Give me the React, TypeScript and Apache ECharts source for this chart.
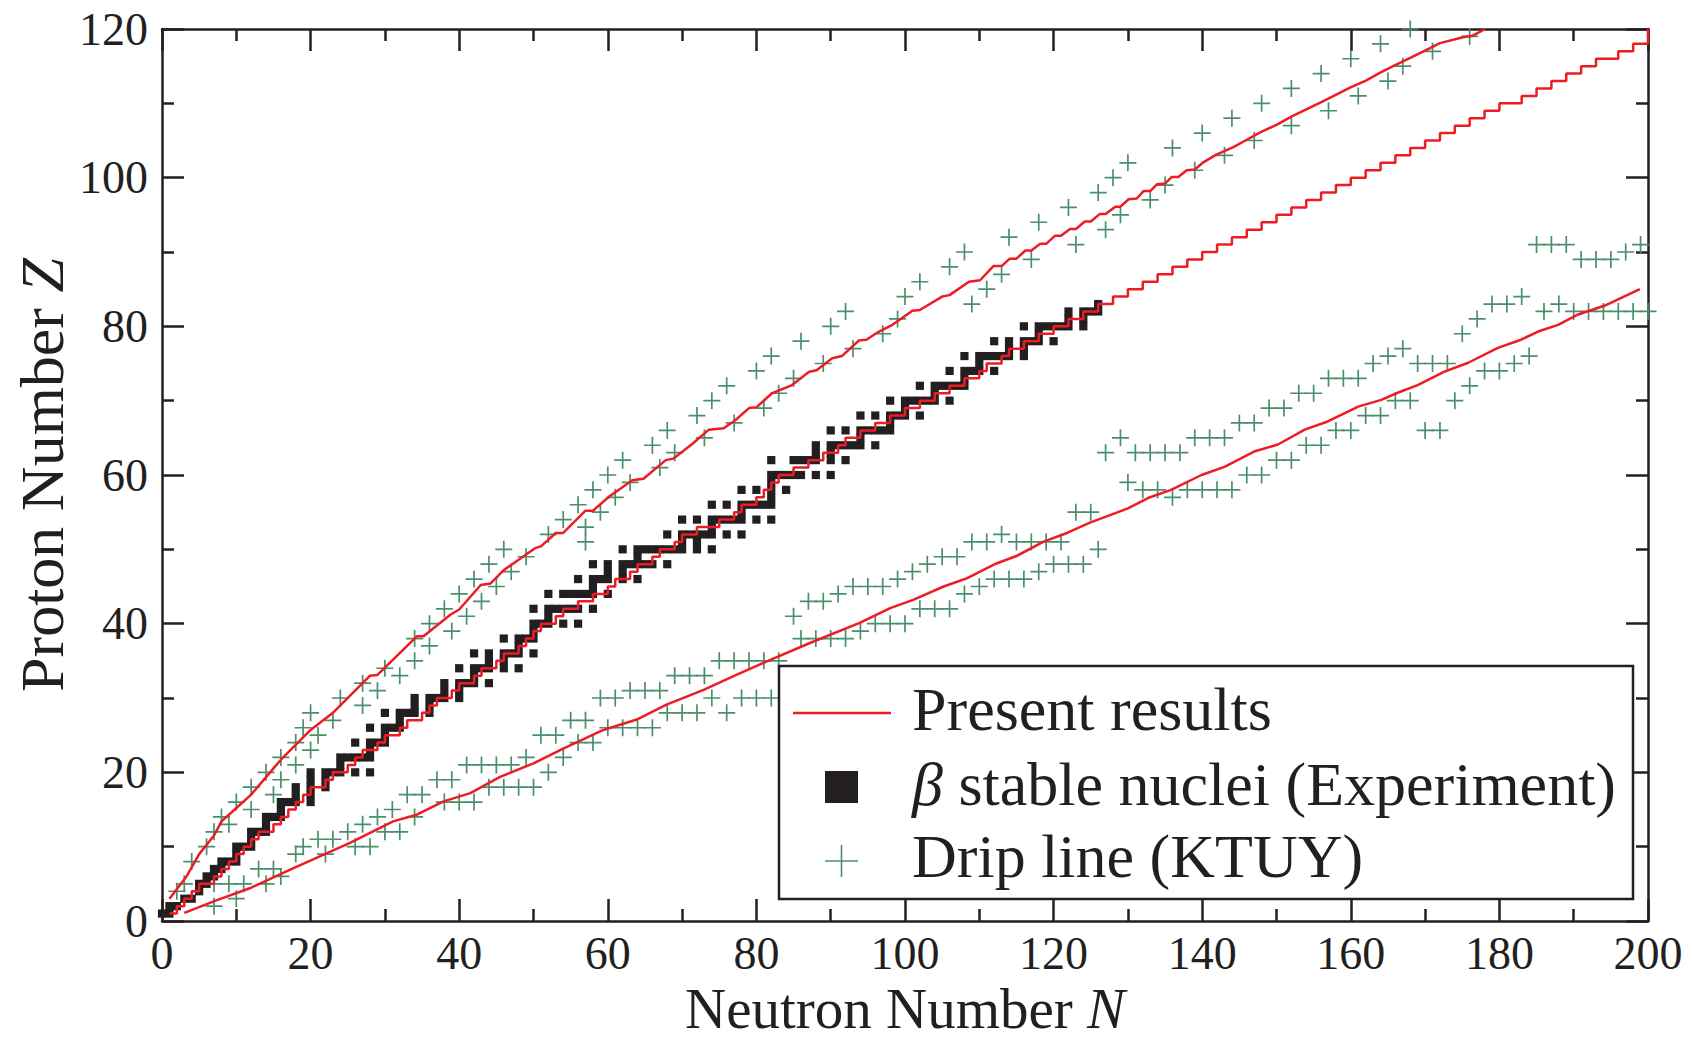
import React, { useEffect, useRef } from 'react';
import * as echarts from 'echarts';

const FONT = '"Liberation Serif", "Times New Roman", Times, serif';
const INK = '#231f20';
const RED = '#ed1c24';
const GREEN = '#4a8f6b';

// Axis ranges / ticks
const xRange = [0, 200];
const yRange = [0, 120];
const majorStep = 20;

// Legend / axis texts
const xTitle = 'Neutron Number ';
const xTitleItalic = 'N';
const yTitle = 'Proton Number ';
const yTitleItalic = 'Z';
const legendLabels = ['Present results', 'β', ' stable nuclei (Experiment)', 'Drip line (KTUY)'];

// β-stable nuclei (experiment): [Z, list of N]
const stableByZ: [number, number[]][] = [
  [1, [0, 1]], [2, [1, 2]], [3, [3, 4]], [4, [5]], [5, [5, 6]], [6, [6, 7]], [7, [7, 8]],
  [8, [8, 9, 10]], [9, [10]], [10, [10, 11, 12]], [11, [12]], [12, [12, 13, 14]], [13, [14]],
  [14, [14, 15, 16]], [15, [16]], [16, [16, 17, 18, 20]], [17, [18, 20]], [18, [18, 20, 22]],
  [19, [20, 22]], [20, [20, 22, 23, 24, 26, 28]], [21, [24]], [22, [24, 25, 26, 27, 28]],
  [23, [28]], [24, [26, 28, 29, 30]], [25, [30]], [26, [28, 30, 31, 32]], [27, [32]],
  [28, [30, 32, 33, 34, 36]], [29, [34, 36]], [30, [34, 36, 37, 38, 40]], [31, [38, 40]],
  [32, [38, 40, 41, 42, 44]], [33, [42]], [34, [40, 42, 43, 44, 46, 48]], [35, [44, 46]],
  [36, [42, 44, 46, 47, 48, 50]], [37, [48]], [38, [46, 48, 49, 50]], [39, [50]],
  [40, [50, 51, 52, 54, 56]], [41, [52]], [42, [50, 52, 53, 54, 55, 56, 58]],
  [44, [52, 54, 55, 56, 57, 58, 60]], [45, [58]], [46, [56, 58, 59, 60, 62, 64]], [47, [60, 62]],
  [48, [58, 60, 62, 63, 64, 65, 66, 68]], [49, [64]], [50, [62, 64, 65, 66, 67, 68, 69, 70, 72, 74]],
  [51, [70, 72]], [52, [68, 70, 71, 72, 73, 74, 76, 78]], [53, [74]],
  [54, [70, 72, 74, 75, 76, 77, 78, 80, 82]], [55, [78]], [56, [74, 76, 78, 79, 80, 81, 82]],
  [57, [82]], [58, [78, 80, 82, 84]], [59, [82]], [60, [82, 83, 84, 85, 86, 88, 90]],
  [62, [82, 85, 86, 87, 88, 90, 92]], [63, [88, 90]], [64, [88, 90, 91, 92, 93, 94, 96]],
  [65, [94]], [66, [90, 92, 94, 95, 96, 97, 98]], [67, [98]], [68, [94, 96, 98, 99, 100, 102]],
  [69, [100]], [70, [98, 100, 101, 102, 103, 104, 106]], [71, [104]],
  [72, [102, 104, 105, 106, 107, 108]], [73, [108]], [74, [106, 108, 109, 110, 112]], [75, [110]],
  [76, [108, 110, 111, 112, 113, 114, 116]], [77, [114, 116]], [78, [112, 114, 116, 117, 118, 120]],
  [79, [118]], [80, [116, 118, 119, 120, 121, 122, 124]], [81, [122, 124]], [82, [122, 124, 125, 126]],
  [83, [126]],
];

// Present results: proton drip line [N, Z]
const protonDripPresent: number[][] = [
  [1, 3], [3.3, 6], [5, 9], [7, 11.5], [8, 13.4], [9, 14.3], [12, 17], [16, 21.7], [20, 25.7],
  [23, 28], [28, 33], [29, 33.1], [34.3, 38.3], [35.2, 38.3], [38.8, 41.2], [40, 41.9],
  [42.9, 45.2], [44.2, 45.4], [46, 47.2], [50.3, 50.2], [51, 50.4], [53, 52.2], [54, 52.2],
  [57, 55.2], [58, 55.2], [60.2, 57.1], [63.3, 59.3], [64.8, 59.5], [67.8, 62], [68.8, 62.2],
  [71.4, 64.2], [73.6, 66.1], [75.6, 66.3], [77.2, 67.4], [79, 69], [80, 69.1], [82.1, 71],
  [84.8, 72.1], [87.1, 73.9], [88.1, 74.1], [90.2, 75.7], [91.5, 76], [93.8, 78.1], [94.8, 78.2],
  [96.5, 79.3], [98.3, 80.2], [101, 82.1], [102, 82.2], [105, 84], [106, 84.2], [108.6, 86],
  [110.1, 86.2], [111.9, 88.1], [113, 88.1], [114.1, 89.1], [115, 89.1], [116.2, 90.2], [117, 90.2],
  [118.2, 91.1], [119, 91.1], [120.2, 92.2], [121, 92.2], [122.2, 93.1], [123, 93.1], [124.2, 94.1],
  [125, 94.1], [126.2, 95.1], [127, 95.1], [128.3, 96.1], [129, 96.1], [130.1, 97.1], [131.2, 97.2],
  [132.1, 98.2], [133, 98.2], [133.9, 99.1], [135, 99.2], [135.9, 100.1], [136.8, 100.1],
  [137.9, 101], [139, 101.1], [140.2, 102.1], [141.9, 103.1], [144.2, 104.1], [146, 105.1],
  [147.8, 106.1], [150, 107.1], [152, 108.2], [153.8, 109.1], [156.1, 110.2], [158.1, 111.2],
  [159.9, 112.1], [162.1, 113.1], [163.9, 114.1], [165.9, 115.1], [168, 116.1], [170, 117.1],
  [172, 118.1], [175.1, 118.9], [176.4, 119.1], [178.1, 120],
];

// Present results: beta-stability line (staircase, [N where Z rises, new Z])
const betaLinePresent: number[][] = [
  [1, 1], [2, 2], [3, 3], [4, 4], [5, 5], [7, 6], [8, 7], [9, 8], [10, 9], [11, 10], [12, 11],
  [13, 12], [15, 13], [16, 14], [17, 15], [18, 16], [19, 17], [20, 18], [22, 19], [23, 20],
  [25, 21], [26, 22], [27, 23], [29, 24], [30, 25], [32, 26], [33, 27], [35, 28], [36, 29],
  [37, 30], [39, 31], [40, 32], [42, 33], [43, 34], [45, 35], [46, 36], [48, 37], [49, 38],
  [50, 39], [51, 40], [53, 41], [54, 42], [56, 43], [58, 44], [60, 45], [61, 46], [63, 47],
  [64, 48], [66, 49], [67, 50], [69, 51], [70, 52], [72, 53], [75, 54], [77, 55], [78, 56],
  [80, 57], [81, 58], [82, 59], [83, 60], [85, 61], [87, 62], [89, 63], [91, 64], [92, 65],
  [94, 66], [96, 67], [98, 68], [100, 69], [102, 70], [104, 71], [106, 72], [108, 73], [110, 74],
  [111, 75], [113, 76], [114, 77], [116, 78], [118, 79], [120, 80], [122, 81], [124, 82],
  [126, 83], [128, 84], [130, 85], [132, 86], [134, 87], [136, 88], [138, 89], [140, 90],
  [142, 91], [144, 92], [146, 93], [148, 94], [150, 95], [152, 96], [154, 97], [156, 98],
  [158, 99], [160, 100], [162, 101], [164, 102], [166, 103], [168, 104], [170, 105], [172, 106],
  [174, 107], [176, 108], [178, 109], [180, 110], [183, 111], [185, 112], [187, 113], [189, 114],
  [191, 115], [193, 116], [196, 117], [198, 118], [200, 118], [200, 120],
];

// Present results: neutron drip line [N, Z]
const neutronDripPresent: number[][] = [
  [3, 1.1], [7.4, 2.8], [11.8, 4.4], [17.7, 7.1], [25.3, 10.5], [31.1, 13.4], [34.3, 14.3],
  [37.9, 16.1], [41.5, 17.2], [45.5, 19.4], [50, 21.2], [54, 23.2], [59.4, 25.7], [63.9, 27.1],
  [67.9, 29.1], [72.9, 31.1], [77.3, 33.1], [81.8, 35.1], [87.2, 37.4], [93.9, 40.1], [98, 42.1],
  [101.1, 43.2], [105.2, 45], [108.3, 46.1], [112.3, 48.1], [115, 49.1], [118.6, 51],
  [121.8, 52.2], [124.9, 53.6], [130, 55.5], [132.7, 56.9], [135.8, 58], [139.9, 60], [143, 61.1],
  [147.1, 63.2], [150.2, 64.1], [153.8, 66.1], [156.9, 67.2], [161, 69.2], [164.1, 70.1],
  [166.4, 71.1], [169, 72.1], [172.6, 73.9], [175.8, 75.1], [179.8, 77.1], [182.9, 78.2],
  [185.2, 79.3], [187.9, 80.2], [190.6, 81.6], [194.2, 82.8], [198.9, 85],
];

// KTUY drip line, proton-rich side [N, Z]
const ktuyProtonSide: number[][] = [
  [2, 4], [3, 5], [4, 8], [6, 10], [7, 12], [8, 14], [9, 13], [10, 16], [12, 18], [12, 15],
  [14, 20], [15, 17], [16, 22], [16, 19], [18, 24], [18, 21], [19, 26], [20, 28], [20, 23],
  [21, 25], [23, 27], [24, 30], [27, 29], [27, 32], [29, 31], [30, 34], [32, 33], [34, 38],
  [34, 35], [36, 40], [36, 37], [38, 42], [39, 39], [40, 44], [41, 41], [42, 46], [43, 43],
  [44, 48], [45, 45], [46, 50], [47, 47], [49, 49], [52, 52], [54, 54], [56, 56], [57, 51],
  [57, 53], [58, 58], [59, 55], [60, 60], [61, 57], [62, 62], [63, 59], [66, 64], [67, 61],
  [68, 66], [69, 63], [72, 68], [73, 65], [74, 70], [76, 72], [77, 67], [80, 74], [81, 69],
  [82, 76], [83, 71], [85, 73], [86, 78], [89, 75], [90, 80], [92, 82], [93, 77], [97, 79],
  [99, 81], [100, 84], [102, 86], [106, 88], [108, 90], [109, 83], [111, 85], [113, 87],
  [114, 92], [117, 89], [118, 94], [122, 96], [123, 91], [126, 98], [127, 93], [128, 100],
  [129, 95], [130, 102], [133, 97], [135, 99], [136, 104], [139, 101], [140, 106], [143, 103],
  [144, 108], [147, 105], [148, 110], [152, 107], [152, 112], [156, 114], [157, 109], [160, 116],
  [161, 111], [164, 118], [165, 113], [167, 115], [168, 120], [171, 117], [176, 119],
];

// KTUY drip line, neutron-rich side [N, Z]
const ktuyNeutronSide: number[][] = [
  [7, 2], [7, 5], [9, 5], [10, 3], [11, 5], [13, 7], [14, 5], [15, 7], [16, 6], [18, 9],
  [19, 10], [21, 11], [22, 9], [23, 11], [25, 12], [26, 10], [27, 13], [28, 10], [29, 14],
  [30, 12], [31, 15], [32, 12], [33, 17], [34, 14], [35, 17], [37, 19], [38, 16], [39, 19],
  [40, 16], [41, 21], [42, 16], [43, 21], [44, 18], [45, 21], [46, 18], [47, 21], [48, 18],
  [49, 22], [50, 18], [51, 25], [52, 20], [53, 25], [54, 22], [55, 27], [56, 24], [57, 27],
  [58, 24], [59, 30], [60, 26], [61, 30], [62, 26], [63, 31], [64, 26], [65, 31], [66, 26],
  [67, 31], [68, 28], [69, 33], [70, 28], [71, 33], [72, 28], [73, 33], [74, 30], [75, 35],
  [76, 28], [77, 35], [78, 30], [79, 35], [80, 30], [81, 35], [82, 30], [83, 35], [85, 41],
  [86, 38], [87, 43], [88, 38], [89, 43], [90, 38], [91, 44], [92, 38], [93, 45], [94, 39],
  [95, 45], [96, 40], [97, 45], [98, 40], [99, 46], [100, 40], [101, 47], [102, 42], [103, 48],
  [104, 42], [105, 49], [106, 42], [107, 49], [108, 44], [109, 51], [110, 45], [111, 51],
  [112, 46], [113, 52], [114, 46], [115, 51], [116, 46], [117, 51], [118, 47], [119, 51],
  [120, 48], [121, 51], [122, 48], [123, 55], [124, 48], [125, 55], [126, 50], [127, 63],
  [129, 65], [130, 59], [131, 63], [132, 58], [133, 63], [134, 58], [135, 63], [136, 57],
  [137, 63], [138, 58], [139, 65], [140, 58], [141, 65], [142, 58], [143, 65], [144, 58],
  [145, 67], [146, 60], [147, 67], [148, 60], [149, 69], [150, 62], [151, 69], [152, 62],
  [153, 71], [154, 64], [155, 71], [156, 64], [157, 73], [158, 66], [159, 73], [160, 66],
  [161, 73], [162, 68], [163, 75], [164, 68], [165, 76], [166, 70], [167, 77], [168, 70],
  [169, 75], [170, 66], [171, 75], [172, 66], [173, 75], [174, 70], [175, 79], [176, 72],
  [177, 81], [178, 74], [179, 83], [180, 74], [181, 83], [182, 75], [183, 84], [184, 76],
  [185, 91], [186, 82], [187, 91], [188, 83], [189, 91], [190, 82], [191, 89], [192, 82],
  [193, 89], [194, 82], [195, 89], [196, 82], [197, 90], [198, 82], [199, 91], [200, 82],
];

const PLUS = 'path://M0,4.5H10V5.5H0Z M4.5,0H5.5V10H4.5Z';

function makeAxis(position: string, range: number[], showLabel: boolean, labelMargin: number) {
  return {
    type: 'value',
    position,
    min: range[0],
    max: range[1],
    interval: majorStep,
    nameMoveOverlap: false,
    axisLine: { show: true, onZero: false, lineStyle: { color: INK, width: 2.5 } },
    axisTick: { show: true, inside: true, length: 22, lineStyle: { color: INK, width: 2.5 } },
    minorTick: { show: true, splitNumber: 2, length: 12, lineStyle: { color: INK, width: 2.5 } },
    splitLine: { show: false },
    minorSplitLine: { show: false },
    axisLabel: {
      show: showLabel,
      margin: labelMargin,
      color: INK,
      fontFamily: FONT,
      fontSize: 46,
    },
  };
}

export default function App() {
  const ref = useRef<HTMLDivElement>(null);

  useEffect(() => {
    if (!ref.current) return;
    const chart = echarts.init(ref.current, null, { renderer: 'svg' });
    const stableNuclei = stableByZ.flatMap(([z, ns]) => ns.map((n) => [n, z]));
    const ktuy = [...ktuyProtonSide, ...ktuyNeutronSide];

    const redLine = (data: number[][], step?: string) => ({
      type: 'line',
      name: legendLabels[0],
      data,
      step: step || false,
      symbol: 'none',
      showSymbol: false,
      smooth: false,
      lineStyle: { color: RED, width: 2.5, opacity: 1 },
      itemStyle: { color: RED },
      silent: true,
      z: 5,
    });

    const titleRich = {
      a: { fontFamily: FONT, fontSize: 57, color: INK },
      b: { fontFamily: FONT, fontSize: 57, color: INK, fontStyle: 'italic' },
    };

    const bottomX: any = makeAxis('bottom', xRange, true, 9);
    bottomX.name = `{a|${xTitle}}{b|${xTitleItalic}}`;
    bottomX.nameLocation = 'middle';
    bottomX.nameGap = 59;
    bottomX.nameTextStyle = { rich: titleRich };
    const leftY: any = makeAxis('left', yRange, true, 14);
    leftY.name = `{a|${yTitle}}{b|${yTitleItalic}}`;
    leftY.nameLocation = 'middle';
    leftY.nameGap = 89;
    leftY.nameTextStyle = {
      rich: {
        a: { fontFamily: FONT, fontSize: 62, color: INK },
        b: { fontFamily: FONT, fontSize: 62, color: INK, fontStyle: 'italic' },
      },
    };

    const lg = { left: 779, top: 666, right: 1633, bottom: 899 };
    const textBase = { fontFamily: FONT, fontSize: 62, fill: INK, verticalAlign: 'middle', align: 'left' };

    chart.setOption({
      animation: false,
      backgroundColor: '#ffffff',
      textStyle: { fontFamily: FONT },
      grid: { left: 162, top: 29, right: 44, bottom: 120, containLabel: false, outerBoundsMode: 'none' },
      xAxis: [bottomX, makeAxis('top', xRange, false, 8)],
      yAxis: [leftY, makeAxis('right', yRange, false, 8)],
      series: [
        {
          type: 'scatter',
          name: 'β stable nuclei (Experiment)',
          data: stableNuclei,
          symbol: 'rect',
          symbolSize: 8.2,
          itemStyle: { color: INK, opacity: 1 },
          silent: true,
          z: 2,
        },
        {
          type: 'scatter',
          name: legendLabels[3],
          data: ktuy,
          symbol: PLUS,
          symbolSize: 17,
          itemStyle: { color: GREEN, opacity: 1 },
          silent: true,
          z: 3,
        },
        redLine(protonDripPresent),
        redLine(betaLinePresent, 'end'),
        redLine(neutronDripPresent),
      ],
      graphic: [
        {
          type: 'rect',
          z: 100,
          shape: { x: lg.left, y: lg.top, width: lg.right - lg.left, height: lg.bottom - lg.top },
          style: { fill: '#ffffff', stroke: INK, lineWidth: 2.5 },
        },
        {
          type: 'line',
          z: 101,
          shape: { x1: 793, y1: 713, x2: 891, y2: 713 },
          style: { stroke: RED, lineWidth: 2.5 },
        },
        {
          type: 'rect',
          z: 101,
          shape: { x: 825, y: 771, width: 33, height: 32 },
          style: { fill: INK },
        },
        {
          type: 'line',
          z: 101,
          shape: { x1: 825, y1: 861, x2: 858, y2: 861 },
          style: { stroke: GREEN, lineWidth: 1.6 },
        },
        {
          type: 'line',
          z: 101,
          shape: { x1: 841.5, y1: 845, x2: 841.5, y2: 877 },
          style: { stroke: GREEN, lineWidth: 1.6 },
        },
        {
          type: 'text',
          z: 101,
          x: 912,
          y: 709,
          style: { ...textBase, text: legendLabels[0] },
        },
        {
          type: 'text',
          z: 101,
          x: 912,
          y: 784,
          style: {
            ...textBase,
            text: `{b|${legendLabels[1]}}{a|${legendLabels[2]}}`,
            rich: {
              a: { fontFamily: FONT, fontSize: 62, fill: INK },
              b: { fontFamily: FONT, fontSize: 62, fill: INK, fontStyle: 'italic' },
            },
          },
        },
        {
          type: 'text',
          z: 101,
          x: 912,
          y: 856,
          style: { ...textBase, text: legendLabels[3] },
        },
      ],
    });
    return () => chart.dispose();
  }, []);

  return (
    <div
      ref={ref}
      style={{ position: 'fixed', left: 0, top: 0, width: '1692px', height: '1041px', background: '#fff' }}
    />
  );
}
